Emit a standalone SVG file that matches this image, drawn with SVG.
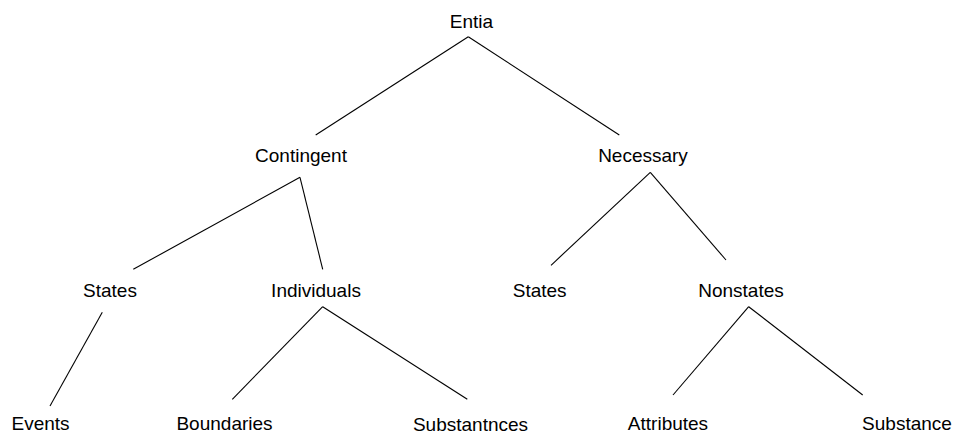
<svg xmlns="http://www.w3.org/2000/svg" width="953" height="435" viewBox="0 0 953 435">
<style>
text{font-family:"Liberation Sans",Arial,sans-serif;font-size:19px;fill:#000;text-anchor:middle}
.c line{stroke:#000;stroke-width:1.1;fill:none}
</style>
<rect width="953" height="435" fill="#fff"/>
<g class="c" id="connectors">
<line x1="468.3" y1="36.7" x2="315.7" y2="135"/>
<line x1="468.3" y1="36.7" x2="619.3" y2="135"/>
<line x1="300" y1="177.3" x2="133.3" y2="269.3"/>
<line x1="300" y1="177.3" x2="322.7" y2="269.3"/>
<line x1="650.3" y1="172.3" x2="551" y2="265.3"/>
<line x1="650.3" y1="172.3" x2="726" y2="260"/>
<line x1="102.3" y1="312.3" x2="50" y2="406"/>
<line x1="322.7" y1="306.7" x2="232.3" y2="399.3"/>
<line x1="322.7" y1="306.7" x2="467.3" y2="399.3"/>
<line x1="748.7" y1="306.7" x2="673" y2="395"/>
<line x1="748.7" y1="306.7" x2="862.7" y2="395"/>
</g>
<g id="entia"><text x="471.5" y="28">Entia</text></g>
<g id="contingent"><text x="301" y="162">Contingent</text></g>
<g id="necessary"><text x="643" y="162">Necessary</text></g>
<g id="states1"><text x="110" y="297">States</text></g>
<g id="individuals"><text x="316" y="297">Individuals</text></g>
<g id="states2"><text x="539.7" y="297">States</text></g>
<g id="nonstates"><text x="741" y="297">Nonstates</text></g>
<g id="events"><text x="40.5" y="430">Events</text></g>
<g id="boundaries"><text x="224.5" y="430">Boundaries</text></g>
<g id="substantnces"><text x="470.5" y="430.5">Substantnces</text></g>
<g id="attributes"><text x="668" y="430">Attributes</text></g>
<g id="substance"><text x="907" y="430">Substance</text></g>
</svg>
